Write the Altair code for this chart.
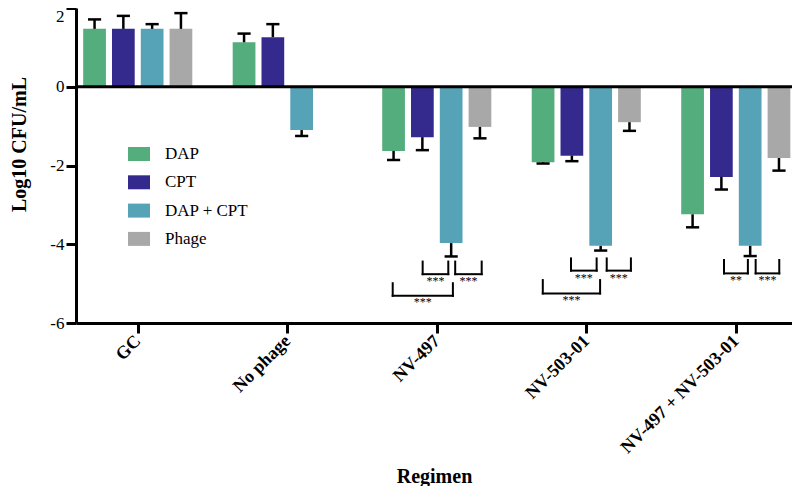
import altair as alt
import pandas as pd

# ---------------- data ----------------
regimens = ["GC", "No phage", "NV-497", "NV-503-01", "NV-497 + NV-503-01"]
treatments = ["DAP", "CPT", "DAP + CPT", "Phage"]
colors = ["#54AD7C", "#342A8E", "#56A3B8", "#A8A8A8"]

# mean log10 CFU/mL per regimen
dap_mean = [1.47, 1.13, -1.63, -1.92, -3.24]
cpt_mean = [1.47, 1.26, -1.28, -1.75, -2.29]
combo_mean = [1.47, -1.10, -3.97, -4.04, -4.04]
phage_mean = [1.47, None, -1.02, -0.90, -1.81]

# error (one-sided, away from zero)
dap_err = [0.24, 0.22, 0.23, 0.03, 0.33]
cpt_err = [0.33, 0.33, 0.33, 0.14, 0.32]
combo_err = [0.12, 0.15, 0.34, 0.12, 0.26]
phage_err = [0.40, None, 0.29, 0.22, 0.32]

# significance annotations
sig_regimen = ["NV-497", "NV-497", "NV-497", "NV-503-01", "NV-503-01", "NV-503-01",
               "NV-497 + NV-503-01", "NV-497 + NV-503-01"]
sig_from = [1.01, 2.14, -0.03, 0.97, 2.21, -0.01, 1.09, 2.19]
sig_to = [1.90, 3.06, 2.06, 1.86, 3.05, 1.98, 1.92, 3.01]
sig_top = [-4.44, -4.44, -4.99, -4.36, -4.36, -4.91, -4.40, -4.40]
sig_bottom = [-4.76, -4.76, -5.31, -4.67, -4.67, -5.25, -4.74, -4.74]
sig_label = ["***", "***", "***", "***", "***", "***", "**", "***"]
sig_label_y = [-4.93, -4.93, -5.47, -4.86, -4.86, -5.42, -4.92, -4.92]

# ---------------- layout helpers ----------------
SLOT = 0.1926
HALF_BAR = 0.076
HALF_CAP = 0.044

means = [dap_mean, cpt_mean, combo_mean, phage_mean]
errs = [dap_err, cpt_err, combo_err, phage_err]

rows = []
for k, t in enumerate(treatments):
    for gi, r in enumerate(regimens):
        m = means[k][gi]
        e = errs[k][gi]
        if m is None:
            continue
        xpos = gi + (k - 1.5) * SLOT
        end = m + (e if m >= 0 else -e)
        rows.append(dict(regimen=r, treatment=t, mean=m, errend=end, base=0,
                         xpos=xpos, x0=xpos - HALF_BAR, x1=xpos + HALF_BAR,
                         c0=xpos - HALF_CAP, c1=xpos + HALF_CAP))
df = pd.DataFrame(rows)

seg_rows = []
txt_rows = []
for i, r in enumerate(sig_regimen):
    gi = regimens.index(r)
    xl = gi + (sig_from[i] - 1.5) * SLOT
    xr = gi + (sig_to[i] - 1.5) * SLOT
    seg_rows.append(dict(x=xl, x2=xl, y=sig_top[i], y2=sig_bottom[i]))
    seg_rows.append(dict(x=xr, x2=xr, y=sig_top[i], y2=sig_bottom[i]))
    seg_rows.append(dict(x=xl, x2=xr, y=sig_bottom[i], y2=sig_bottom[i]))
    txt_rows.append(dict(x=(xl + xr) / 2, y=sig_label_y[i], label=sig_label[i]))
seg_df = pd.DataFrame(seg_rows)
txt_df = pd.DataFrame(txt_rows)

FONT = "Liberation Serif"
XDOM = [-0.413, 4.376]
label_expr = "[" + ",".join("'" + r + "'" for r in regimens) + "][datum.value]"

xscale = alt.Scale(domain=XDOM, nice=False, zero=False)
yscale = alt.Scale(domain=[-6, 2], nice=False, zero=False)

x_axis = alt.Axis(values=list(range(len(regimens))), labelExpr=label_expr,
                  labelAngle=-45, labelAlign="right", labelBaseline="middle",
                  labelFont=FONT, labelFontSize=18, labelFontWeight="bold",
                  labelColor="black", labelPadding=5,
                  tickSize=10, tickWidth=3, tickColor="black",
                  domainWidth=3, domainColor="black", grid=False,
                  title="Regimen", titleFont=FONT, titleFontSize=20,
                  titleFontWeight="bold", titleColor="black",
                  titleY=159, titleBaseline="alphabetic")

y_axis = alt.Axis(values=[-6, -4, -2, 0, 2], labelExpr="'' + datum.value",
                  labelFont=FONT, labelFontSize=17, labelColor="black",
                  labelPadding=2,
                  labelBaseline={"condition": {"test": "datum.value == 2", "value": "top"},
                                 "value": "middle"},
                  tickSize=10, tickWidth=3, tickColor="black",
                  domainWidth=3, domainColor="black", grid=False,
                  title="Log10 CFU/mL", titleFont=FONT, titleFontSize=20,
                  titleFontWeight="bold", titleColor="black",
                  titleX=-57, titleY=136, titleAngle=270,
                  titleAlign="center", titleBaseline="middle")

legend = alt.Legend(orient="none", legendX=52, legendY=135, title=None,
                    symbolType="M-1,-0.636L1,-0.636L1,0.636L-1,0.636Z",
                    symbolSize=484, symbolStrokeWidth=0, symbolOpacity=1,
                    labelFont=FONT, labelFontSize=17, labelColor="black",
                    labelOffset=15, rowPadding=9.3, padding=0)


def X(field):
    return alt.X(field, type="quantitative", scale=xscale, axis=x_axis)


def Y(field):
    return alt.Y(field, type="quantitative", scale=yscale, axis=y_axis)


bars = alt.Chart(df).mark_bar().encode(
    x=X("x0"), x2="x1:Q",
    y=Y("mean"), y2="base:Q",
    color=alt.Color("treatment:N", scale=alt.Scale(domain=treatments, range=colors),
                    legend=legend),
)

err_line = alt.Chart(df).mark_rule(color="black", strokeWidth=2.5).encode(
    x=X("xpos"), y=Y("mean"), y2="errend:Q",
)

err_cap = alt.Chart(df).mark_rule(color="black", strokeWidth=2.5).encode(
    x=X("c0"), x2="c1:Q", y=Y("errend"),
)

zero_line = alt.Chart(pd.DataFrame({"v": [0]})).mark_rule(
    color="black", strokeWidth=3).encode(y=Y("v"))

brackets = alt.Chart(seg_df).mark_rule(color="black", strokeWidth=2,
                                       strokeCap="square").encode(
    x=X("x"), x2="x2:Q", y=Y("y"), y2="y2:Q",
)

stars = alt.Chart(txt_df).mark_text(font=FONT, fontSize=12, color="black",
                                    baseline="middle", align="center").encode(
    x=X("x"), y=Y("y"), text="label:N",
)

chart = alt.layer(bars, err_line, err_cap, zero_line, brackets, stars).properties(
    width=716, height=315,
    autosize=alt.AutoSizeParams(type="none"),
    padding={"left": 68, "top": 0, "right": 0, "bottom": 163},
    background="white",
).configure_view(stroke=None)

chart.save("out.html", embed_options={"renderer": "svg", "actions": False})
